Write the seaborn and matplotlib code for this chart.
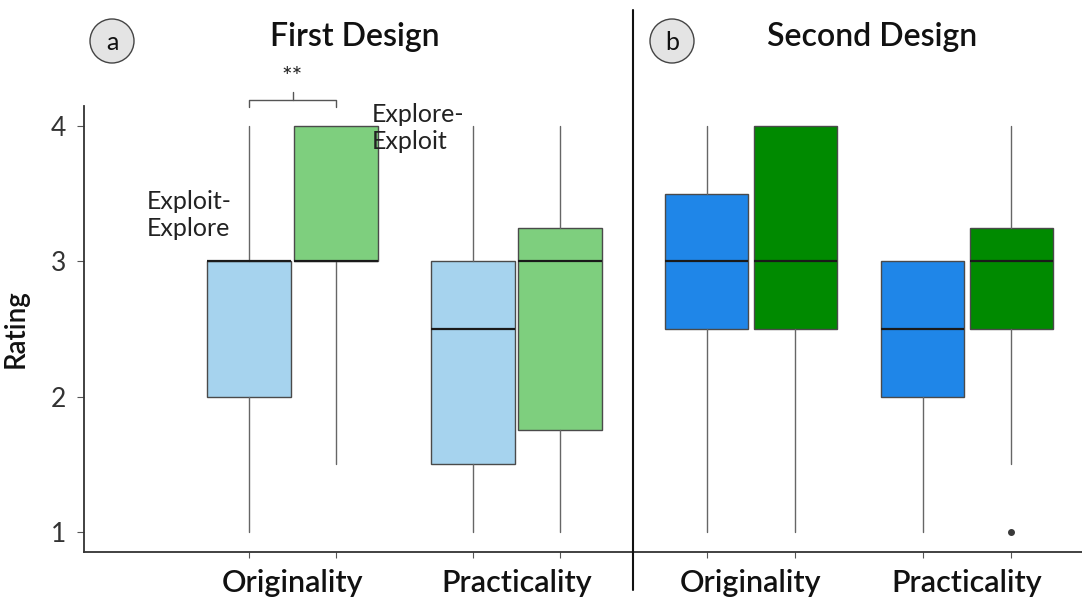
import matplotlib
matplotlib.use("Agg")
import matplotlib.pyplot as plt
from matplotlib.patches import Circle
from matplotlib.lines import Line2D
import seaborn as sns

sns.set_theme(style="white")
plt.rcParams["font.family"] = ["Lato", "DejaVu Sans"]

# Five-number summaries of the ratings (1-4 scale) for each condition
criteria = ["Originality", "Practicality"]
conditions = ["Exploit-Explore", "Explore-Exploit"]

# First design: [Originality, Practicality] per condition
first_exploit_explore = {"whislo": [1.0, 1.0], "q1": [2.0, 1.5], "med": [3.0, 2.5], "q3": [3.0, 3.0], "whishi": [4.0, 4.0]}
first_explore_exploit = {"whislo": [1.5, 1.0], "q1": [3.0, 1.75], "med": [3.0, 3.0], "q3": [4.0, 3.25], "whishi": [4.0, 4.0]}
first_fliers = [[], []]

# Second design
second_exploit_explore = {"whislo": [1.0, 1.0], "q1": [2.5, 2.0], "med": [3.0, 2.5], "q3": [3.5, 3.0], "whishi": [4.0, 3.0]}
second_explore_exploit = {"whislo": [1.0, 1.5], "q1": [2.5, 2.5], "med": [3.0, 3.0], "q3": [4.0, 3.25], "whishi": [4.0, 4.0]}
second_fliers = [[], [1.0]]

y_ticks = [1, 2, 3, 4]

colors_first = ["#a6d3ee", "#7ecf7e"]
colors_second = ["#1f86e8", "#008a00"]

W, H = 1082, 600
fig = plt.figure(figsize=(W / 100, H / 100), dpi=100)


def fx(px):
    return px / W


def fy(py):
    return 1 - py / H


ymin, ymax = 0.85, 4.15
ax_bottom, ax_top = 552.3, 105.7

ax1 = fig.add_axes([fx(84), fy(ax_bottom), fx(633) - fx(84), (ax_bottom - ax_top) / H])
ax2 = fig.add_axes([fx(633), fy(ax_bottom), fx(1082) - fx(633), (ax_bottom - ax_top) / H])


def stats_for(summary, i, fliers):
    return dict(whislo=summary["whislo"][i], q1=summary["q1"][i], med=summary["med"][i],
                q3=summary["q3"][i], whishi=summary["whishi"][i], fliers=fliers)


def draw_panel(ax, s_left, s_right, fliers_right, colors, offset, width, xlim):
    positions, stats, faces = [], [], []
    for i in range(len(criteria)):
        positions += [i - offset, i + offset]
        stats += [stats_for(s_left, i, []), stats_for(s_right, i, fliers_right[i])]
        faces += colors
    bp = ax.bxp(stats, positions=positions, widths=width, patch_artist=True,
                showcaps=False, manage_ticks=False,
                boxprops=dict(edgecolor="#4a4a4a", linewidth=1.0),
                whiskerprops=dict(color="#666666", linewidth=1.0),
                medianprops=dict(color="#1a1a1a", linewidth=1.6),
                flierprops=dict(marker="o", markersize=4, markerfacecolor="#3a3a3a",
                                markeredgecolor="#3a3a3a"))
    for patch, c in zip(bp["boxes"], faces):
        patch.set_facecolor(c)
    ax.set_xlim(*xlim)
    ax.set_ylim(ymin, ymax)
    ax.set_xticks(positions)
    ax.set_xticklabels([])
    ax.tick_params(axis="x", direction="out", length=4, width=0.8, color="#555555", bottom=True)
    ax.set_facecolor("none")
    return positions


draw_panel(ax1, first_exploit_explore, first_explore_exploit, first_fliers,
           colors_first, 0.194, 0.375, (-0.931, 1.520))
draw_panel(ax2, second_exploit_explore, second_explore_exploit, second_fliers,
           colors_second, 0.204, 0.384, (-0.546, 1.532))

# Axes styling
sns.despine(ax=ax1, top=True, right=True)
sns.despine(ax=ax2, top=True, right=True, left=True)
for ax in (ax1, ax2):
    ax.spines["bottom"].set_color("#333333")
    ax.spines["bottom"].set_linewidth(1.3)
    ax.grid(False)
ax1.spines["left"].set_color("#333333")
ax1.spines["left"].set_linewidth(1.3)

ax1.set_yticks(y_ticks)
ax1.set_yticklabels([str(t) for t in y_ticks], fontsize=19, color="#333333")
ax1.tick_params(axis="y", direction="out", length=5, width=0.8, color="#555555", left=True, pad=8)
ax2.set_yticks([])

ax1.set_ylabel("Rating", fontsize=20, fontweight="semibold", color="#111111", labelpad=16)

# Category labels under each group
for ax in (ax1, ax2):
    for i, name in enumerate(criteria):
        ax.text(i, -0.068, name, transform=ax.get_xaxis_transform(), ha="center", va="center",
                fontsize=22, fontweight="semibold", color="#111111")

# Panel titles and badges
fig.text(fx(355), fy(37), "First Design", ha="center", va="center", fontsize=23,
         fontweight="semibold", color="#111111")
fig.text(fx(872), fy(37), "Second Design", ha="center", va="center", fontsize=23,
         fontweight="semibold", color="#111111")
for (cx, cy, letter) in [(112, 41, "a"), (672, 41, "b")]:
    # circle drawn in inches so it stays round on the wide figure
    circ = Circle((cx / 100, (H - cy) / 100), radius=0.22, transform=fig.dpi_scale_trans,
                  facecolor="#e4e4e4", edgecolor="#444444", linewidth=1.0)
    fig.add_artist(circ)
    fig.text(fx(cx), fy(cy + 1), letter, ha="center", va="center", fontsize=18, color="#111111")

# Divider between the two designs
fig.add_artist(Line2D([fx(633), fx(633)], [fy(10), fy(590)], color="#111111", linewidth=1.5))

# Significance bracket between the originality conditions of the first design
bx0, bx1 = -0.194, 0.194
ax1.plot([bx0, bx0, bx1, bx1], [4.14, 4.19, 4.19, 4.14], color="#555555", linewidth=1.0, clip_on=False)
ax1.plot([0, 0], [4.19, 4.25], color="#555555", linewidth=1.0, clip_on=False)
ax1.text(0, 4.36, "**", ha="center", va="center", fontsize=18, color="#222222", clip_on=False)

# Condition labels
fig.text(fx(147), fy(215), "Exploit-\nExplore", ha="left", va="center", fontsize=18,
         color="#222222", linespacing=1.25)
fig.text(fx(372), fy(128), "Explore-\nExploit", ha="left", va="center", fontsize=18,
         color="#222222", linespacing=1.25)

fig.savefig("out.png", dpi=100)
